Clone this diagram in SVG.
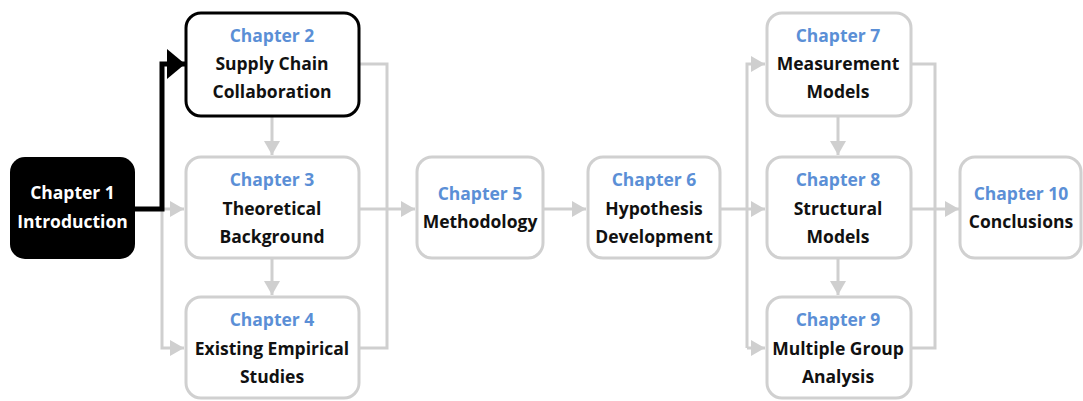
<svg xmlns="http://www.w3.org/2000/svg" width="1083" height="401" viewBox="0 0 1083 401">
<style>
.box{fill:#fff;stroke:#d0d0d0;stroke-width:3}
.t{font-family:"Open Sans",Lato,sans-serif;font-weight:bold;font-size:17.5px;text-anchor:middle;fill:#111}
.h{fill:#5b8fd6}
.w{fill:#fff}
.c{fill:none;stroke:#cfcfcf;stroke-width:3}
</style>
<defs>
<marker id="ag" markerUnits="userSpaceOnUse" markerWidth="14" markerHeight="16" refX="14" refY="8" orient="auto"><path d="M0,0 L14,8 L0,16 Z" fill="#cfcfcf"/></marker>
<marker id="ab" markerUnits="userSpaceOnUse" markerWidth="18" markerHeight="30" refX="18" refY="15" orient="auto"><path d="M0,0 L18,15 L0,30 Z" fill="#000"/></marker>
</defs>
<rect width="1083" height="401" fill="#fff"/>
<g id="connectors">
<path class="c" d="M162,209 V348 H184" marker-end="url(#ag)"/>
<path class="c" d="M162,209 H184" marker-end="url(#ag)"/>
<path class="c" d="M272,117 V155" marker-end="url(#ag)"/>
<path class="c" d="M272,259 V295" marker-end="url(#ag)"/>
<path class="c" d="M360,64 H387 V348 H360"/>
<path class="c" d="M360,209 H415" marker-end="url(#ag)"/>
<path class="c" d="M544,209 H586" marker-end="url(#ag)"/>
<path class="c" d="M721,209 H765" marker-end="url(#ag)"/>
<path class="c" d="M747,348 V64 H765" marker-end="url(#ag)"/>
<path class="c" d="M747,348 H765" marker-end="url(#ag)"/>
<path class="c" d="M838,117 V155" marker-end="url(#ag)"/>
<path class="c" d="M838,259 V295" marker-end="url(#ag)"/>
<path class="c" d="M912,64 H935 V348 H912"/>
<path class="c" d="M912,209 H959" marker-end="url(#ag)"/>
<path d="M135,209 H162 V64 H185" fill="none" stroke="#000" stroke-width="5" marker-end="url(#ab)"/>
</g>
<g id="ch1"><rect x="10" y="157" width="125" height="102" rx="15" fill="#000"/>
<text class="t w" x="72.5" y="199">Chapter 1</text><text class="t w" x="72.5" y="228">Introduction</text></g>
<g id="ch2"><rect x="186" y="13" width="173" height="103" rx="15" fill="#fff" stroke="#000" stroke-width="3"/>
<text class="t h" x="272" y="42">Chapter 2</text><text class="t" x="272" y="70">Supply Chain</text><text class="t" x="272" y="98">Collaboration</text></g>
<g id="ch3"><rect class="box" x="186" y="157" width="173" height="101" rx="15"/>
<text class="t h" x="272" y="186">Chapter 3</text><text class="t" x="272" y="215">Theoretical</text><text class="t" x="272" y="243">Background</text></g>
<g id="ch4"><rect class="box" x="186" y="297" width="173" height="101" rx="15"/>
<text class="t h" x="272" y="326">Chapter 4</text><text class="t" x="272" y="355">Existing Empirical</text><text class="t" x="272" y="383">Studies</text></g>
<g id="ch5"><rect class="box" x="417" y="157" width="126" height="101" rx="15"/>
<text class="t h" x="480" y="200">Chapter 5</text><text class="t" x="480" y="228">Methodology</text></g>
<g id="ch6"><rect class="box" x="588" y="157" width="132" height="101" rx="15"/>
<text class="t h" x="654" y="186">Chapter 6</text><text class="t" x="654" y="215">Hypothesis</text><text class="t" x="654" y="243">Development</text></g>
<g id="ch7"><rect class="box" x="767" y="13" width="144" height="103" rx="15"/>
<text class="t h" x="838" y="42">Chapter 7</text><text class="t" x="838" y="70">Measurement</text><text class="t" x="838" y="98">Models</text></g>
<g id="ch8"><rect class="box" x="767" y="157" width="144" height="101" rx="15"/>
<text class="t h" x="838" y="186">Chapter 8</text><text class="t" x="838" y="215">Structural</text><text class="t" x="838" y="243">Models</text></g>
<g id="ch9"><rect class="box" x="767" y="297" width="144" height="101" rx="15"/>
<text class="t h" x="838" y="326">Chapter 9</text><text class="t" x="838" y="355">Multiple Group</text><text class="t" x="838" y="383">Analysis</text></g>
<g id="ch10"><rect class="box" x="960" y="157" width="121" height="101" rx="15"/>
<text class="t h" x="1021" y="200">Chapter 10</text><text class="t" x="1021" y="228">Conclusions</text></g>
</svg>
